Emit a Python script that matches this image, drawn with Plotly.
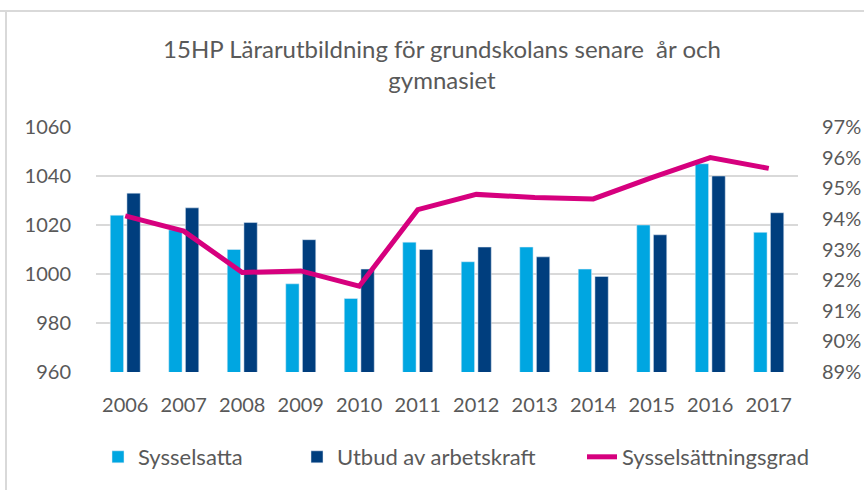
import plotly.graph_objects as go

years = ["2006", "2007", "2008", "2009", "2010", "2011", "2012", "2013", "2014", "2015", "2016", "2017"]
sysselsatta = [1024, 1018, 1010, 996, 990, 1013, 1005, 1011, 1002, 1020, 1045, 1017]
utbud = [1033, 1027, 1021, 1014, 1002, 1010, 1011, 1007, 999, 1016, 1040, 1025]
grad = [94.1, 93.6, 92.25, 92.3, 91.8, 94.3, 94.8, 94.7, 94.65, 95.35, 96.0, 95.65]

FONT = "Lato, sans-serif"
GRAY = "#595959"

# plot-area geometry in pixels (for converting to paper coords)
L, R, T, B, W, H = 96, 66, 127, 118, 864, 490
PW, PH = W - L - R, H - T - B
def px(x):
    return (x - L) / PW
def py(y):
    return (H - B - y) / PH

fig = go.Figure()
fig.add_trace(go.Bar(x=years, y=sysselsatta, name="Sysselsatta", marker=dict(color="#00A6E1"),
                     legend="legend"))
fig.add_trace(go.Bar(x=years, y=utbud, name="Utbud av arbetskraft", marker=dict(color="#003E7E"),
                     legend="legend2"))
fig.add_trace(go.Scatter(x=years, y=grad, name="Sysselsättningsgrad", yaxis="y2", mode="lines",
                         line=dict(color="#D6007E", width=5), legend="legend3"))

leg_common = dict(orientation="h", yanchor="middle", y=py(457), xanchor="left",
                  font=dict(size=22, color=GRAY, family=FONT), bgcolor="rgba(0,0,0,0)",
                  borderwidth=0)

fig.update_layout(
    width=W, height=H,
    margin=dict(l=L, r=R, t=T, b=B, autoexpand=False),
    paper_bgcolor="white", plot_bgcolor="white",
    font=dict(family=FONT, color=GRAY, size=20),
    title=dict(text="15HP Lärarutbildning för grundskolans senare  år och<br>gymnasiet",
               xref="paper", x=px(442), xanchor="center",
               yref="container", y=1 - 58 / H, yanchor="middle",
               font=dict(family=FONT, size=24, color=GRAY)),
    barmode="group", bargap=0.43, bargroupgap=0.2,
    xaxis=dict(showgrid=False, showline=False, ticks="", tickfont=dict(size=20), ticklabelstandoff=19),
    yaxis=dict(range=[960, 1060], dtick=20, showgrid=True, gridcolor="#D9D9D9", gridwidth=1.5,
               zeroline=False, ticks="", tickfont=dict(size=20), ticklabelstandoff=24),
    yaxis2=dict(range=[89, 97], dtick=1, overlaying="y", side="right", showgrid=False,
                zeroline=False, ticksuffix="%", ticks="", tickfont=dict(size=20), ticklabelstandoff=23),
    legend=dict(x=px(98), **leg_common),
    legend2=dict(x=px(297), **leg_common),
    legend3=dict(x=px(582), **leg_common),
    showlegend=True,
)

# outer frame lines seen in the reference screenshot
fig.add_shape(type="line", xref="paper", yref="paper",
              x0=px(0), x1=px(W), y0=py(11), y1=py(11),
              line=dict(color="#D9D9D9", width=2))
fig.add_shape(type="line", xref="paper", yref="paper",
              x0=px(6), x1=px(6), y0=py(H), y1=py(11),
              line=dict(color="#D9D9D9", width=2))

fig.write_html("out.html", config={"displayModeBar": False},
               post_script="document.body.style.margin='0';")
